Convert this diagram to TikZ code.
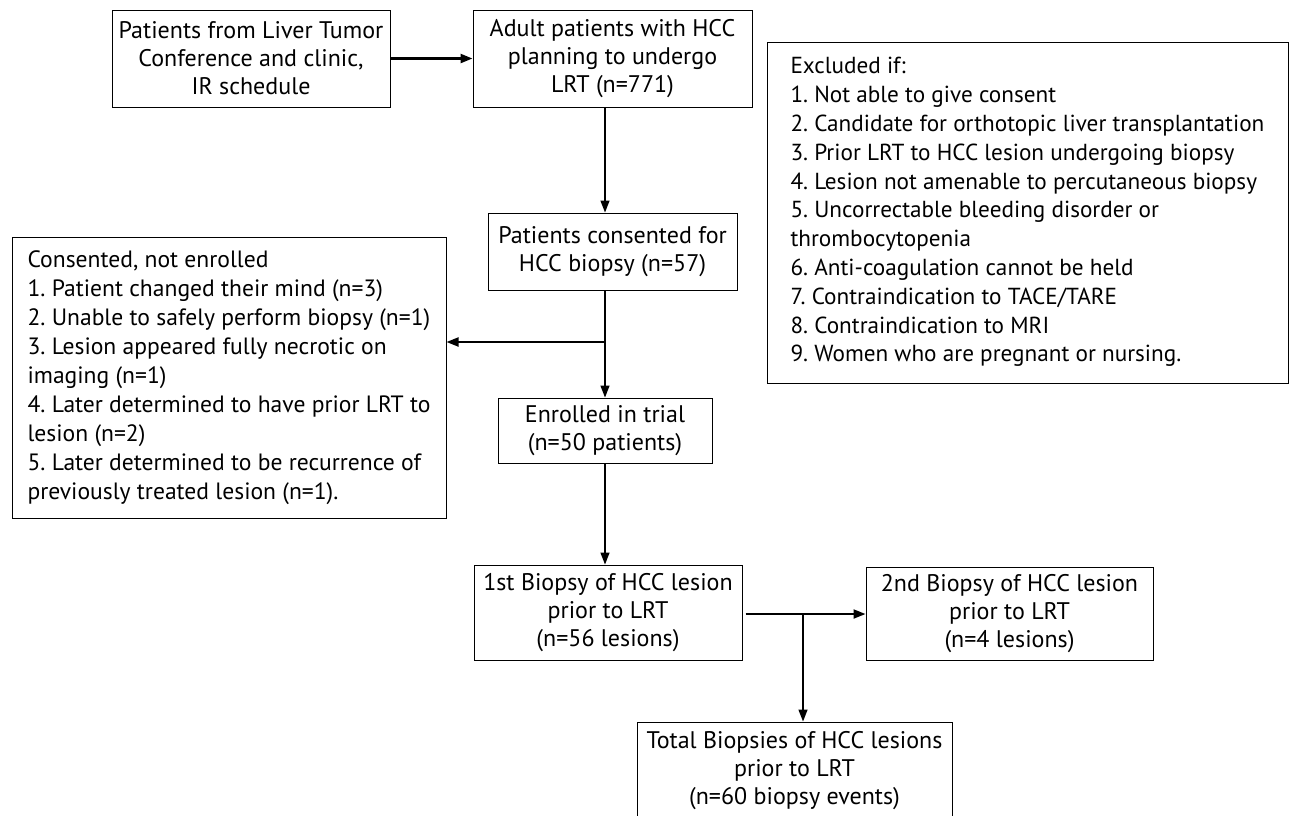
\documentclass[tikz,border=0pt]{standalone}
\usepackage{fontspec}
\setmainfont{PT Sans}
\frenchspacing
\usetikzlibrary{arrows.meta}
\begin{document}
\begin{tikzpicture}[x=0.5pt,y=-0.5pt,
  box/.style={draw, line width=0.5pt, inner sep=0pt, align=center,
    font=\fontsize{12}{14}\selectfont},
  arr/.style={-{Triangle[length=6pt,width=4.5pt]}, line width=0.7pt}]
\useasboundingbox (0,0) rectangle (1295,815);
\node[box, minimum width=139pt, minimum height=48.5pt] (src) at (251,58.5){Patients from Liver Tumor\\Conference and clinic,\\IR schedule};
\node[box, minimum width=139.5pt, minimum height=48.5pt] (adult) at (612.5,58.5){Adult patients with HCC\\planning to undergo\\LRT (n=771)};
\node[draw, line width=0.5pt, inner sep=0pt, minimum width=260.5pt, minimum height=170.5pt,
  font=\fontsize{11.6}{14.4}\selectfont] (excl) at (1027.5,212.5){%
  \begin{minipage}[c][155pt][t]{237pt}\raggedright
  Excluded if:\\
  1. Not able to give consent\\
  2. Candidate for orthotopic liver transplantation\\
  3. Prior LRT to HCC lesion undergoing biopsy\\
  4. Lesion not amenable to percutaneous biopsy\\
  5. Uncorrectable bleeding disorder or\\
  thrombocytopenia\\
  6. Anti-coagulation cannot be held\\
  7. Contraindication to TACE/TARE\\
  8. Contraindication to MRI\\
  9. Women who are pregnant or nursing.
  \end{minipage}};
\node[box, minimum width=124.5pt, minimum height=38.5pt] (consent) at (612.5,251.5){Patients consented for\\HCC biopsy (n=57)};
\node[box, align=left, minimum width=217pt, minimum height=140.5pt, font=\fontsize{11.8}{14.5}\selectfont] (notenr) at (229,377.5){%
  Consented, not enrolled\\
  1. Patient changed their mind (n=3)\\
  2. Unable to safely perform biopsy (n=1)\\
  3. Lesion appeared fully necrotic on\\
  imaging (n=1)\\
  4. Later determined to have prior LRT to\\
  lesion (n=2)\\
  5. Later determined to be recurrence of\\
  previously treated lesion (n=1).};
\node[box, minimum width=107pt, minimum height=32.5pt] (enrol) at (605,430.5){Enrolled in trial\\(n=50 patients)};
\node[box, minimum width=134pt, minimum height=47.5pt] (bx1) at (608,612.5){1st Biopsy of HCC lesion\\prior to LRT\\(n=56 lesions)};
\node[box, minimum width=143.5pt, minimum height=46.5pt] (bx2) at (1009.5,613.5){2nd Biopsy of HCC lesion\\prior to LRT\\(n=4 lesions)};
\node[box, minimum width=157.5pt, minimum height=49pt] (total) at (794.5,771){Total Biopsies of HCC lesions\\prior to LRT\\(n=60 biopsy events)};
\coordinate (spine) at (605,0);
\coordinate (split) at (605,342);
\coordinate (fork) at (803,614);
\draw[arr, line width=1.2pt] (src) -- (adult);
\draw[arr] (adult.south -| spine) -- (consent.north -| spine);
\draw[arr] (consent.south -| spine) -- (enrol.north -| spine);
\draw[arr, line width=1pt] (split) -- (notenr.east |- split);
\draw[arr] (enrol.south -| spine) -- (bx1.north -| spine);
\draw[arr, line width=1pt] ([xshift=1.5pt]bx1.east |- fork) -- (bx2.west |- fork);
\draw[arr] (fork) -- (total.north -| fork);
\end{tikzpicture}
\end{document}
